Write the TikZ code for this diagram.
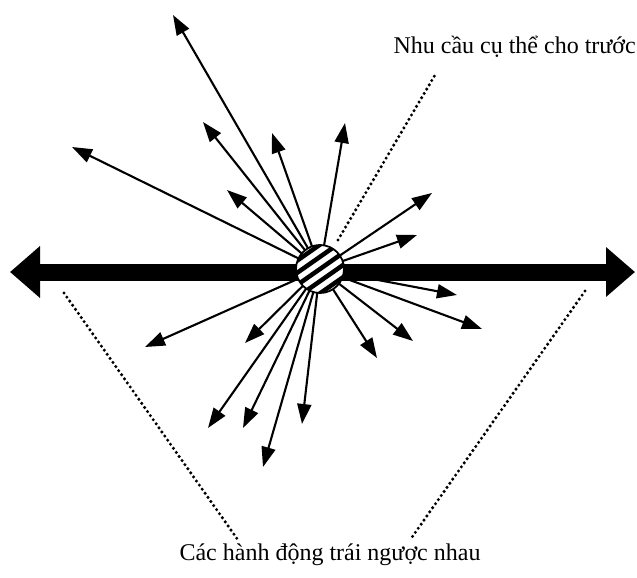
\documentclass[tikz,border=0pt]{standalone}
\usepackage{fontspec}
\setmainfont{Liberation Serif}
\usetikzlibrary{arrows.meta,calc}
\begin{document}
\begin{tikzpicture}[x=1pt,y=-1pt,
  ray/.style={line width=2.1pt,-{Triangle[length=20pt,width=14pt]}},
  bigbar/.style={line width=17pt,{Triangle[length=30pt,width=50pt]}-{Triangle[length=29pt,width=48pt]}},
  dotline/.style={line width=3.4pt,dash pattern=on 0pt off 5pt,line cap=round},
  lbl/.style={font=\fontsize{24}{28}\selectfont,inner sep=0pt}]
\useasboundingbox (0,0) rectangle (637,578);
\fill[white] (0,0) rectangle (637,578);
% centre
\node[circle,minimum size=48pt,inner sep=0pt] (c) at (320,269) {};
% thick double arrow
\coordinate (L) at (10,272);
\coordinate (R) at (635,272);
\draw[bigbar] (L) -- (R);
% dotted guides
\coordinate (d1a) at (338,240); \coordinate (d1b) at (435,75);
\coordinate (d2a) at (64,293);  \coordinate (d2b) at (238,540);
\coordinate (d3a) at (585,291); \coordinate (d3b) at (410,540);
\draw[dotline] (d1a) -- (d1b);
\draw[dotline] (d2a) -- (d2b);
\draw[dotline] (d3a) -- (d3b);
% ray tips
\coordinate (t1) at (173,15);
\coordinate (t2) at (72,147);
\coordinate (t3) at (203,122);
\coordinate (t4) at (272,133);
\coordinate (t5) at (345,123);
\coordinate (t6) at (227,190);
\coordinate (t7) at (432,193);
\coordinate (t8) at (417,235);
\coordinate (t9) at (457,295);
\coordinate (t10) at (482,329);
\coordinate (t11) at (377,358);
\coordinate (t12) at (413,341);
\coordinate (t13) at (145,347);
\coordinate (t14) at (245,343);
\coordinate (t15) at (208,428);
\coordinate (t16) at (243,428);
\coordinate (t17) at (263,467);
\coordinate (t18) at (302,424);
\draw[ray] (c) -- (t1);
\draw[ray] (c) -- (t2);
\draw[ray] (c) -- (t3);
\draw[ray] (c) -- (t4);
\draw[ray] (c) -- (t5);
\draw[ray] (c) -- (t6);
\draw[ray] (c) -- (t7);
\draw[ray] (c) -- (t8);
\draw[ray] (c) -- (t9);
\draw[ray] (c) -- (t10);
\draw[ray] (c) -- (t11);
\draw[ray] (c) -- (t12);
\draw[ray] (c) -- (t13);
\draw[ray] (c) -- (t14);
\draw[ray] (c) -- (t15);
\draw[ray] (c) -- (t16);
\draw[ray] (c) -- (t17);
\draw[ray] (c) -- (t18);
% striped circle
\fill[white] (c.center) circle [radius=24];
\begin{scope}
  \clip (c.center) circle [radius=24];
  \draw[line width=4.5pt] ($(c.center)+(-41.4,4.6)$) -- ($(c.center)+(18.6,-37.4)$);
  \draw[line width=4.5pt] ($(c.center)+(-35.7,12.8)$) -- ($(c.center)+(24.3,-29.2)$);
  \draw[line width=4.5pt] ($(c.center)+(-30,21)$) -- ($(c.center)+(30,-21)$);
  \draw[line width=4.5pt] ($(c.center)+(-24.3,29.2)$) -- ($(c.center)+(35.7,-12.8)$);
  \draw[line width=4.5pt] ($(c.center)+(-18.6,37.4)$) -- ($(c.center)+(41.4,-4.6)$);
\end{scope}
\draw[line width=1.8pt] (c.center) circle [radius=24];
% labels
\node[lbl,anchor=base east] (top) at (636,53) {Nhu cầu cụ thể cho trước};
\node[lbl,anchor=base] (bot) at (330,560) {Các hành động trái ngược nhau};
\end{tikzpicture}
\end{document}
